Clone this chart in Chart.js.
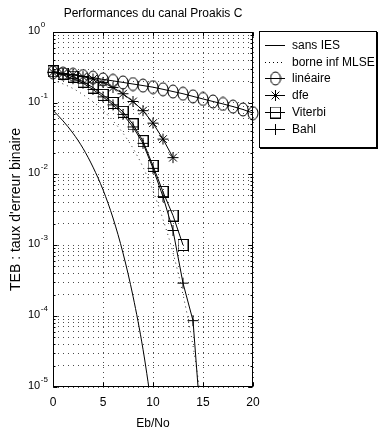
<!DOCTYPE html>
<html>
<head>
<meta charset="utf-8">
<script src="https://cdn.jsdelivr.net/npm/chart.js@4.4.1/dist/chart.umd.min.js"></script>
<style>
body { margin: 0; background: #fff; }
</style>
</head>
<body>
<canvas id="berChart" width="379" height="433"></canvas>
<script>
// Eb/No en dB
const ebno = [0, 1, 2, 3, 4, 5, 6, 7, 8, 9, 10, 11, 12, 13, 14, 15, 16, 17, 18, 19, 20];

// TEB
const sansIes = [0.079, 0.056, 0.0375, 0.023, 0.0125, 0.006, 0.0024, 0.00077, 0.00019, 0.000034, 0.0000039];
const borneMlse = [0.21, 0.186, 0.16, 0.131, 0.104, 0.079, 0.056, 0.0375, 0.023, 0.0125, 0.0058, 0.0023, 0.00078, 0.0002, 0.000038, 0.0000045];
const lineaire = [0.27, 0.26, 0.25, 0.24, 0.228, 0.215, 0.205, 0.195, 0.185, 0.176, 0.167, 0.156, 0.145, 0.135, 0.124, 0.114, 0.105, 0.097, 0.089, 0.081, 0.072];
const dfe = [0.27, 0.26, 0.25, 0.235, 0.218, 0.195, 0.165, 0.135, 0.105, 0.078, 0.052, 0.031, 0.017];
const viterbi = [0.28, 0.26, 0.235, 0.2, 0.165, 0.13, 0.1, 0.075, 0.05, 0.029, 0.013, 0.0056, 0.0026, 0.001];
const bahl = [0.27, 0.25, 0.22, 0.19, 0.155, 0.122, 0.094, 0.069, 0.046, 0.027, 0.012, 0.0048, 0.0016, 0.00029, 0.000086, 0.0000012];

const xTicks = [0, 5, 10, 15, 20];
const decades = [-5, -4, -3, -2, -1, 0];

const FONT = '"Liberation Sans", Arial, sans-serif';

// graduations log : 1..9 x 10^n
const yTicks = [];
decades.forEach(e => {
    if (e === 0) { yTicks.push(1); return; }
    for (let m = 1; m <= 9; m++) yTicks.push(m * Math.pow(10, e));
});

function toPoints(values) {
    return values.map((v, i) => ({ x: ebno[i], y: v }));
}

function markerCanvas(w, h, draw) {
    const c = document.createElement('canvas');
    c.width = w;
    c.height = h;
    const ctx = c.getContext('2d');
    ctx.strokeStyle = '#000';
    ctx.lineWidth = 1;
    draw(ctx);
    return c;
}

const ellipseMark = markerCanvas(12, 15, ctx => {
    ctx.beginPath();
    ctx.ellipse(6, 7.5, 5, 6.5, 0, 0, 2 * Math.PI);
    ctx.stroke();
});
const squareMark = markerCanvas(11, 12, ctx => {
    ctx.strokeRect(0.5, 0.5, 10, 11);
});

const datasets = [
    { label: 'sans IES', data: toPoints(sansIes), borderColor: '#000', borderWidth: 1,
      pointRadius: 0, cubicInterpolationMode: 'monotone', clip: 0 },
    { label: 'borne inf MLSE', data: toPoints(borneMlse), borderColor: 'rgba(0,0,0,0.8)', borderWidth: 1,
      borderDash: [1, 4], pointRadius: 0, cubicInterpolationMode: 'monotone', clip: 0 },
    { label: 'linéaire', data: toPoints(lineaire), borderColor: '#000', borderWidth: 1,
      pointStyle: ellipseMark, pointRadius: 6, clip: 10 },
    { label: 'dfe', data: toPoints(dfe), borderColor: '#000', borderWidth: 1,
      pointStyle: 'star', pointRadius: 5.5, pointBorderColor: '#000', pointBorderWidth: 1, clip: 10 },
    { label: 'Viterbi', data: toPoints(viterbi), borderColor: '#000', borderWidth: 1,
      pointStyle: squareMark, pointRadius: 6, clip: 10 },
    { label: 'Bahl', data: toPoints(bahl), borderColor: '#000', borderWidth: 1,
      pointStyle: 'cross', pointRadius: 5.5, pointBorderColor: '#000', pointBorderWidth: 1,
      clip: { left: 10, top: 10, right: 10, bottom: 0 } }
];

function drawMarker(ctx, kind, x, y) {
    ctx.beginPath();
    if (kind === 'ellipse') {
        ctx.drawImage(ellipseMark, x - 6, y - 7.5);
    } else if (kind === 'square') {
        ctx.drawImage(squareMark, x - 5.5, y - 6);
    } else if (kind === 'star') {
        const r = 5.5;
        for (let k = 0; k < 4; k++) {
            const a = k * Math.PI / 4;
            ctx.moveTo(x - r * Math.cos(a), y - r * Math.sin(a));
            ctx.lineTo(x + r * Math.cos(a), y + r * Math.sin(a));
        }
        ctx.stroke();
    } else if (kind === 'cross') {
        ctx.moveTo(x - 5.5, y);
        ctx.lineTo(x + 5.5, y);
        ctx.moveTo(x, y - 5.5);
        ctx.lineTo(x, y + 5.5);
        ctx.stroke();
    }
}

const decorPlugin = {
    id: 'decor',
    afterDraw(chart) {
        const ctx = chart.ctx;
        const area = chart.chartArea;
        const xs = chart.scales.x;
        const ys = chart.scales.y;
        const L = Math.round(area.left) + 0.5;
        const R = Math.round(area.right) - 0.5;
        const T = Math.round(area.top) + 0.5;
        const B = Math.round(area.bottom) - 0.5;
        ctx.save();
        ctx.strokeStyle = '#000';
        ctx.fillStyle = '#000';
        ctx.lineWidth = 1;
        ctx.setLineDash([]);

        // cadre
        ctx.strokeRect(L, T, R - L, B - T);

        // petites graduations vers l'intérieur
        ctx.beginPath();
        yTicks.forEach(v => {
            const py = Math.round(ys.getPixelForValue(v)) + 0.5;
            const len = [1e-5, 1e-4, 1e-3, 1e-2, 1e-1, 1].some(d => Math.abs(v - d) < d * 1e-6) ? 4 : 2;
            ctx.moveTo(L, py); ctx.lineTo(L + len, py);
            ctx.moveTo(R, py); ctx.lineTo(R - len, py);
        });
        xTicks.forEach(v => {
            const px = Math.round(xs.getPixelForValue(v)) + 0.5;
            ctx.moveTo(px, B); ctx.lineTo(px, B - 4);
            ctx.moveTo(px, T); ctx.lineTo(px, T + 4);
        });
        ctx.stroke();

        // étiquettes x
        ctx.font = '12px ' + FONT;
        ctx.textAlign = 'center';
        ctx.textBaseline = 'middle';
        xTicks.forEach(v => {
            ctx.fillText(String(v), xs.getPixelForValue(v), 403);
        });

        // étiquettes y : 10^n
        decades.forEach(e => {
            const py = ys.getPixelForValue(Math.pow(10, e));
            ctx.font = '11px ' + FONT;
            ctx.textAlign = 'left';
            ctx.textBaseline = 'middle';
            ctx.fillText('10', 28, py - 1);
            const w = ctx.measureText('10').width;
            ctx.font = '8px ' + FONT;
            ctx.fillText(String(e), 28 + w + 0.5, py - 7);
        });

        // titres
        ctx.font = '12px ' + FONT;
        ctx.textAlign = 'center';
        ctx.textBaseline = 'middle';
        const cx = (area.left + area.right) / 2;
        ctx.fillText('Performances du canal Proakis C', cx, 13.5);
        ctx.fillText('Eb/No', cx, 424);
        ctx.save();
        ctx.translate(16, (area.top + area.bottom) / 2);
        ctx.rotate(-Math.PI / 2);
        ctx.font = '14px ' + FONT;
        ctx.fillText("TEB : taux d'erreur binaire", 0, 0);
        ctx.restore();

        // légende
        ctx.fillStyle = '#fff';
        ctx.fillRect(259, 31, 119, 117);
        ctx.strokeStyle = '#000';
        ctx.strokeRect(259.5, 31.5, 117, 116);
        ctx.beginPath();
        ctx.moveTo(377.5, 32); ctx.lineTo(377.5, 149);
        ctx.moveTo(260, 148.5); ctx.lineTo(378, 148.5);
        ctx.stroke();
        const kinds = [null, null, 'ellipse', 'star', 'square', 'cross'];
        chart.data.datasets.forEach((ds, i) => {
            const y = Math.round(45 + i * 16.7) + 0.5;
            ctx.beginPath();
            ctx.strokeStyle = '#000';
            ctx.setLineDash(i === 1 ? [1, 3] : []);
            ctx.moveTo(265, y);
            ctx.lineTo(285, y);
            ctx.stroke();
            ctx.setLineDash([]);
            if (kinds[i]) drawMarker(ctx, kinds[i], 275.5, y);
            ctx.fillStyle = '#000';
            ctx.font = '12px ' + FONT;
            ctx.textAlign = 'left';
            ctx.textBaseline = 'middle';
            ctx.fillText(ds.label, 292, y);
        });
        ctx.restore();
    }
};

new Chart(document.getElementById('berChart'), {
    type: 'line',
    data: { datasets: datasets },
    options: {
        responsive: false,
        animation: false,
        layout: { padding: { left: 53, right: 126, top: 32, bottom: 46 } },
        plugins: {
            legend: { display: false },
            title: { display: false },
            tooltip: { enabled: false }
        },
        scales: {
            x: {
                type: 'linear', min: 0, max: 20,
                afterBuildTicks: s => { s.ticks = xTicks.map(v => ({ value: v })); },
                ticks: { display: false },
                grid: { color: 'rgba(0,0,0,0.7)', lineWidth: 1, drawTicks: false },
                border: { display: false, dash: [1, 4] }
            },
            y: {
                type: 'logarithmic', min: 1e-5, max: 1,
                afterBuildTicks: s => { s.ticks = yTicks.map(v => ({ value: v })); },
                ticks: { display: false },
                grid: { color: 'rgba(0,0,0,0.7)', lineWidth: 1, drawTicks: false },
                border: { display: false, dash: [1, 4] }
            }
        }
    },
    plugins: [decorPlugin]
});
</script>
</body>
</html>
